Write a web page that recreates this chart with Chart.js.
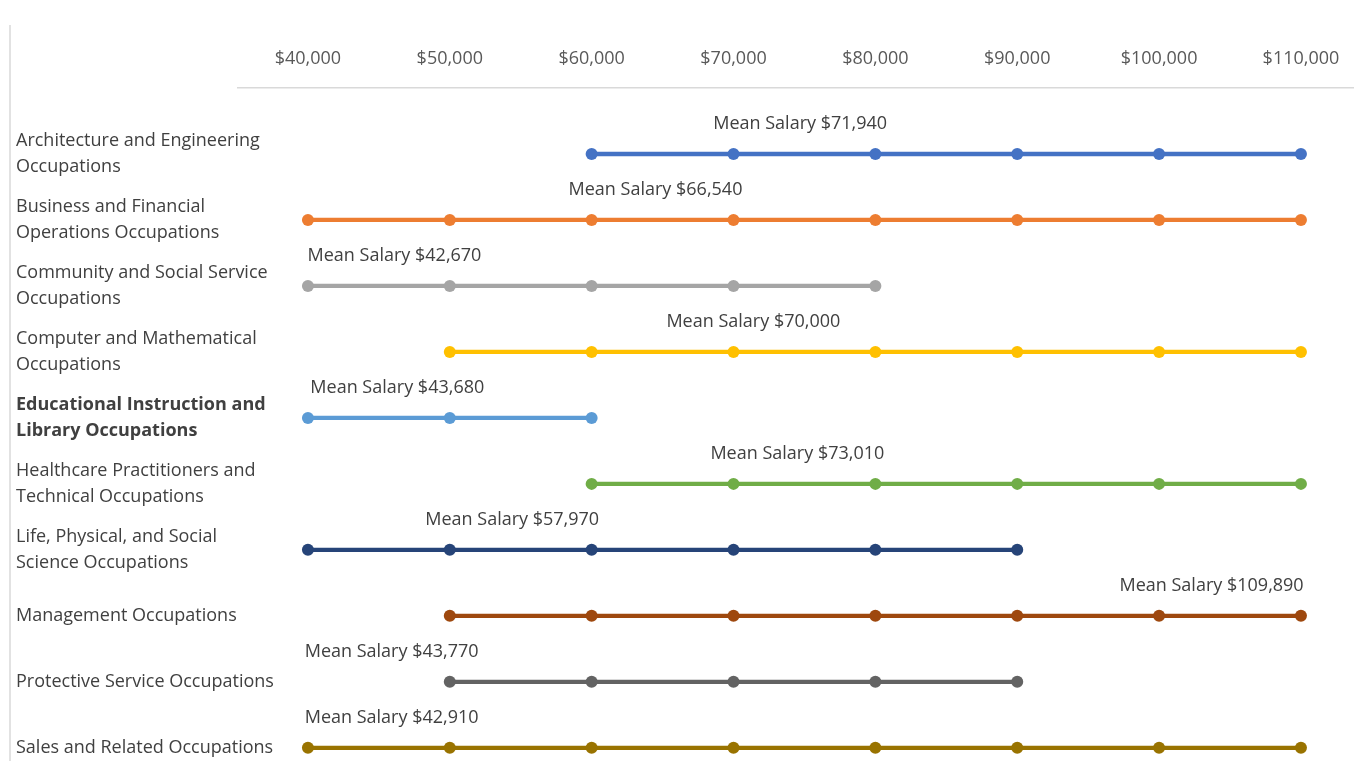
<!DOCTYPE html>
<html>
<head>
<meta charset="utf-8">
<script src="https://cdn.jsdelivr.net/npm/chart.js@4.4.0/dist/chart.umd.min.js"></script>
<style>
  body { margin: 0; background: #fff; }
  #wrap { width: 1354px; height: 761px; position: relative; }
</style>
</head>
<body>
<div id="wrap"><canvas id="salary-chart"></canvas></div>
<script>
// Occupations (top to bottom)
const occupations = [
    ["Architecture and Engineering", "Occupations"],
    ["Business and Financial", "Operations Occupations"],
    ["Community and Social Service", "Occupations"],
    ["Computer and Mathematical", "Occupations"],
    ["Educational Instruction and", "Library Occupations"],
    ["Healthcare Practitioners and", "Technical Occupations"],
    ["Life, Physical, and Social", "Science Occupations"],
    "Management Occupations",
    "Protective Service Occupations",
    "Sales and Related Occupations"
];

// Salary points on each range line
const archValues = [60000, 70000, 80000, 90000, 100000, 110000];
const businessValues = [40000, 50000, 60000, 70000, 80000, 90000, 100000, 110000];
const communityValues = [40000, 50000, 60000, 70000, 80000];
const computerValues = [50000, 60000, 70000, 80000, 90000, 100000, 110000];
const educationValues = [40000, 50000, 60000];
const healthValues = [60000, 70000, 80000, 90000, 100000, 110000];
const lifeValues = [40000, 50000, 60000, 70000, 80000, 90000];
const managementValues = [50000, 60000, 70000, 80000, 90000, 100000, 110000];
const protectiveValues = [50000, 60000, 70000, 80000, 90000];
const salesValues = [40000, 50000, 60000, 70000, 80000, 90000, 100000, 110000];

const meanSalaries = ["$71,940", "$66,540", "$42,670", "$70,000", "$43,680",
                      "$73,010", "$57,970", "$109,890", "$43,770", "$42,910"];

const tickValues = [40000, 50000, 60000, 70000, 80000, 90000, 100000, 110000];

// where each "Mean Salary" caption is centred, in salary units
const captionCenters = [74700, 64500, 46100, 71400, 46300, 74500, 54400, 103700, 45900, 45900];

const seriesValues = [archValues, businessValues, communityValues, computerValues, educationValues,
                      healthValues, lifeValues, managementValues, protectiveValues, salesValues];
const colors = ['#4472C4', '#ED7D31', '#A5A5A5', '#FFC000', '#5B9BD5',
                '#70AD47', '#264478', '#9E480E', '#636363', '#997300'];

const FONT = '"Open Sans", Lato, sans-serif';

const datasets = seriesValues.map((vals, i) => ({
    data: vals.map(v => ({ x: v, y: i })),
    borderColor: colors[i],
    backgroundColor: colors[i],
    pointBackgroundColor: colors[i],
    pointBorderWidth: 0,
    pointRadius: 6,
    borderWidth: 4.3,
    tension: 0
}));

// captions + left frame line
const captionPlugin = {
    id: 'captions',
    beforeDraw(chart) {
        const c = chart.ctx;
        c.save();
        c.strokeStyle = '#d9d9d9';
        c.lineWidth = 1.5;
        c.beginPath();
        c.moveTo(10, 25);
        c.lineTo(10, 761);
        c.stroke();
        c.restore();
    },
    afterDatasetsDraw(chart) {
        const c = chart.ctx;
        const xs = chart.scales.x, ys = chart.scales.y;
        c.save();
        c.font = '18px ' + FONT;
        c.fillStyle = '#404040';
        c.textAlign = 'center';
        c.textBaseline = 'middle';
        meanSalaries.forEach((m, i) => {
            c.fillText('Mean Salary ' + m, xs.getPixelForValue(captionCenters[i]), ys.getPixelForValue(i) - 30);
        });
        c.restore();
    }
};

new Chart(document.getElementById('salary-chart'), {
    type: 'line',
    data: { datasets: datasets },
    options: {
        responsive: true,
        maintainAspectRatio: false,
        animation: false,
        events: [],
        layout: { autoPadding: false, padding: { left: 16, right: 0, top: 0, bottom: 0 } },
        plugins: {
            legend: { display: false },
            tooltip: { enabled: false }
        },
        scales: {
            x: {
                type: 'linear',
                position: 'top',
                min: 35070,
                max: 113740,
                afterBuildTicks: s => { s.ticks = tickValues.map(v => ({ value: v })); },
                afterFit: s => { s.height = 88; s.paddingLeft = 0; s.paddingRight = 0; },
                grid: { display: false, drawTicks: false },
                border: { display: true, color: '#d9d9d9', width: 1.5 },
                ticks: {
                    padding: 18,
                    color: '#595959',
                    font: { family: FONT, size: 18 },
                    callback: v => '$' + v.toLocaleString('en-US')
                }
            },
            y: {
                type: 'linear',
                reverse: true,
                min: -1,
                max: 9.2,
                afterBuildTicks: s => { s.ticks = occupations.map((o, i) => ({ value: i })); },
                afterFit: s => { s.width = 222; s.paddingTop = 0; s.paddingBottom = 0; },
                grid: { display: false, drawTicks: false },
                border: { display: false },
                ticks: {
                    // mirrored so long labels are not clipped at the axis edge
                    mirror: true,
                    padding: -222,
                    color: '#404040',
                    font: ctx => ({
                        family: FONT,
                        size: 18,
                        lineHeight: 1.45,
                        weight: ctx.index === 4 ? 'bold' : 'normal'
                    }),
                    callback: (v, i) => occupations[i]
                }
            }
        }
    },
    plugins: [captionPlugin]
});
</script>
</body>
</html>
